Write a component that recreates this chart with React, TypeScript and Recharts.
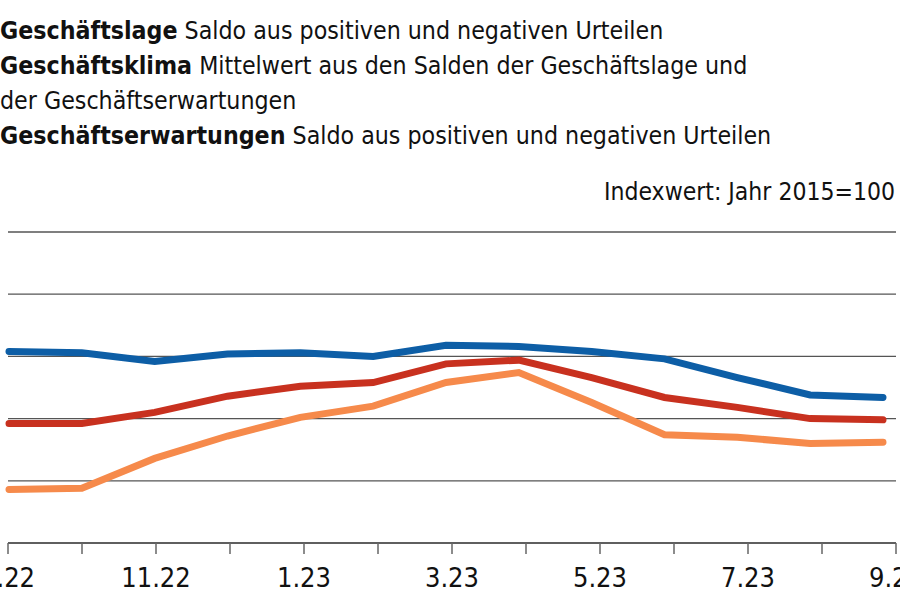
import React from "react";
import { LineChart, Line, XAxis, YAxis, CartesianGrid } from "recharts";

// months from 9.22 to 9.23, index 0..12
const months = [0, 1, 2, 3, 4, 5, 6, 7, 8, 9, 10, 11, 12];
const tickLabels = ["9.22", "", "11.22", "", "1.23", "", "3.23", "", "5.23", "", "7.23", "", "9.23"];

const lage = [90.4, 90.3, 89.6, 90.2, 90.3, 90.0, 90.9, 90.8, 90.4, 89.8, 88.3, 86.9, 86.7];
const klima = [84.6, 84.6, 85.5, 86.8, 87.6, 87.9, 89.4, 89.7, 88.3, 86.7, 85.9, 85.0, 84.9];
const erwartungen = [79.3, 79.4, 81.8, 83.6, 85.1, 86.0, 87.9, 88.7, 86.3, 83.7, 83.5, 83.0, 83.1];

const yTicks = [75, 80, 85, 90, 95, 100];

const data = months.map((m, i) => ({
  m,
  lage: lage[i],
  klima: klima[i],
  erwartungen: erwartungen[i],
}));

const FONT = "'DejaVu Sans Condensed', 'DejaVu Sans', sans-serif";

const titleLines: [string, string][] = [
  ["Geschäftslage", " Saldo aus positiven und negativen Urteilen"],
  ["Geschäftsklima", " Mittelwert aus den Salden der Geschäftslage und"],
  ["", "der Geschäftserwartungen"],
  ["Geschäftserwartungen", " Saldo aus positiven und negativen Urteilen"],
];

export default function App() {
  return (
    <div
      style={{
        position: "absolute",
        left: 0,
        top: 0,
        width: 900,
        height: 600,
        overflow: "hidden",
        background: "#fff",
        fontFamily: FONT,
        fontStretch: "condensed",
        color: "#111",
      }}
    >
      <div style={{ position: "absolute", left: 0, top: 13, fontSize: 24.7, lineHeight: "35px", whiteSpace: "nowrap" }}>
        {titleLines.map(([b, t], i) => (
          <div key={i}>
            {b && <b>{b}</b>}
            {t}
          </div>
        ))}
      </div>
      <div
        style={{
          position: "absolute",
          right: 5,
          top: 174,
          fontSize: 24.5,
          lineHeight: "35px",
          whiteSpace: "nowrap",
        }}
      >
        Indexwert: Jahr 2015=100
      </div>
      <div style={{ position: "absolute", left: 0, top: 0 }}>
        <LineChart width={900} height={600} data={data} margin={{ top: 232, right: 4, bottom: 0, left: 8 }}>
          <CartesianGrid xAxisId="months" vertical={false} stroke="#555" strokeWidth={1.3} />
          <XAxis
            xAxisId="months"
            dataKey="m"
            type="number"
            domain={[0, 12]}
            ticks={months}
            interval={0}
            allowDataOverflow
            tickFormatter={(v: number) => tickLabels[v] ?? ""}
            axisLine={{ stroke: "#555", strokeWidth: 1.5 }}
            tickLine={{ stroke: "#666", strokeWidth: 1.5 }}
            tickSize={11}
            tick={{ fill: "#111", fontSize: 27, fontFamily: FONT, dy: 12 }}
            height={57}
          />
          <XAxis
            xAxisId="pts"
            dataKey="m"
            type="number"
            domain={[0, 12]}
            padding={{ left: 1, right: 13 }}
            hide
          />
          <YAxis hide domain={[75, 100]} ticks={yTicks} allowDataOverflow />
          <Line
            xAxisId="pts"
            dataKey="erwartungen"
            stroke="#f68a4b"
            strokeWidth={7}
            dot={false}
            strokeLinecap="round"
            isAnimationActive={false}
          />
          <Line
            xAxisId="pts"
            dataKey="klima"
            stroke="#c8311f"
            strokeWidth={7}
            dot={false}
            strokeLinecap="round"
            isAnimationActive={false}
          />
          <Line
            xAxisId="pts"
            dataKey="lage"
            stroke="#0d5ea6"
            strokeWidth={7}
            dot={false}
            strokeLinecap="round"
            isAnimationActive={false}
          />
        </LineChart>
      </div>
    </div>
  );
}
